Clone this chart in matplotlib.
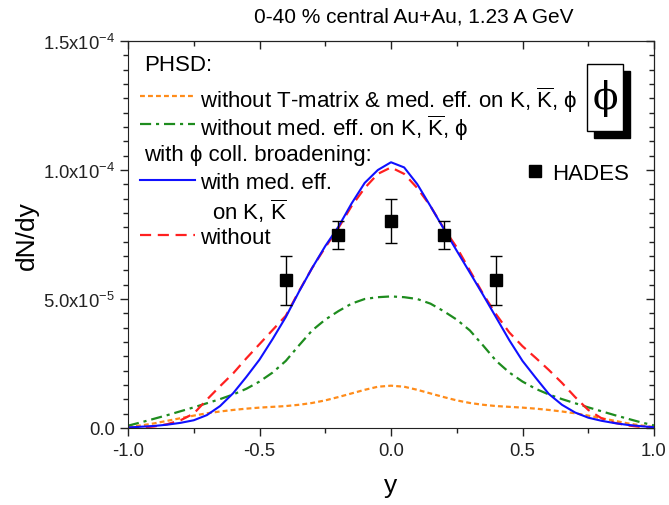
import numpy as np
import matplotlib
matplotlib.use("Agg")
import matplotlib.pyplot as plt
from matplotlib.ticker import AutoMinorLocator
from matplotlib.patches import Rectangle

plt.rcParams['font.family'] = ['Liberation Sans', 'DejaVu Serif']
plt.rcParams['mathtext.fontset'] = 'custom'
plt.rcParams['mathtext.rm'] = 'Liberation Sans'
plt.rcParams['mathtext.it'] = 'Liberation Sans:italic'

# rapidity grid (step 0.05) and dN/dy curves in units of 1e-5
y_grid = np.round(np.arange(-1.0, 1.0001, 0.05), 2)

sin_tmatrix = [0.04, 0.10, 0.18, 0.28, 0.38, 0.48, 0.57, 0.64, 0.70, 0.75, 0.79,
               0.82, 0.85, 0.90, 0.97, 1.07, 1.20, 1.34, 1.48, 1.60, 1.64,
               1.60, 1.48, 1.34, 1.20, 1.07, 0.97, 0.90, 0.85, 0.82, 0.79,
               0.75, 0.70, 0.64, 0.57, 0.48, 0.38, 0.28, 0.18, 0.10, 0.04]

sin_medeff = [0.09, 0.22, 0.36, 0.50, 0.65, 0.80, 0.96, 1.12, 1.30, 1.52, 1.80,
              2.15, 2.60, 3.20, 3.78, 4.20, 4.53, 4.82, 5.00, 5.07, 5.10,
              5.07, 5.00, 4.82, 4.53, 4.20, 3.78, 3.20, 2.60, 2.15, 1.80,
              1.52, 1.30, 1.12, 0.96, 0.80, 0.65, 0.50, 0.36, 0.22, 0.10]

con_medeff = [0.02, 0.05, 0.08, 0.13, 0.20, 0.30, 0.50, 0.85, 1.35, 1.98, 2.65,
              3.45, 4.30, 5.28, 6.20, 7.05, 7.80, 8.70, 9.50, 10.00, 10.30,
              10.10, 9.45, 8.60, 7.73, 6.87, 6.02, 5.16, 4.28, 3.40, 2.60,
              1.95, 1.32, 0.90, 0.60, 0.40, 0.28, 0.19, 0.12, 0.07, 0.03]

sin_broad = [0.00, 0.02, 0.06, 0.15, 0.30, 0.56, 1.10, 1.62, 2.12, 2.70, 3.25,
             3.80, 4.35, 5.30, 6.20, 7.00, 7.75, 8.60, 9.30, 9.85, 10.10,
             9.85, 9.30, 8.60, 7.75, 7.00, 6.10, 5.20, 4.40, 3.70, 3.17,
             2.72, 2.25, 1.75, 1.20, 0.70, 0.38, 0.20, 0.10, 0.04, 0.01]

# HADES data
hades_y = [-0.4, -0.2, 0.0, 0.2, 0.4]
hades_dndy = [5.72e-5, 7.48e-5, 8.02e-5, 7.48e-5, 5.72e-5]
hades_err = [9.6e-6, 5.6e-6, 8.4e-6, 5.6e-6, 9.6e-6]

xticks = [-1.0, -0.5, 0.0, 0.5, 1.0]
xticklabels = ['-1.0', '-0.5', '0.0', '0.5', '1.0']
yticks = [0.0, 5e-5, 1e-4, 1.5e-4]
yticklabels = ['0.0', r'5.0x10$^{-5}$', r'1.0x10$^{-4}$', r'1.5x10$^{-4}$']

fig = plt.figure(figsize=(6.69, 5.06), dpi=100)
ax = fig.add_axes([128 / 669, 1 - 429 / 506, 526 / 669, 387 / 506])

scale = 1e-5
ax.plot(y_grid, np.array(sin_tmatrix) * scale, color='#ff8c1a', lw=1.6,
        linestyle=(0, (2.2, 1.4)))
ax.plot(y_grid, np.array(sin_medeff) * scale, color='#1e8c1e', lw=1.6,
        linestyle=(0, (5, 2.2, 1.4, 2.2)))
ax.plot(y_grid, np.array(sin_broad) * scale, color='#ff2020', lw=1.6,
        linestyle=(0, (5, 3)))
ax.plot(y_grid, np.array(con_medeff) * scale, color='#1010ff', lw=1.5)

ax.errorbar(hades_y, hades_dndy, yerr=hades_err, fmt='s', color='black',
            markersize=8, capsize=4, elinewidth=1, capthick=1, zorder=5)

ax.set_xlim(-1.0, 1.0)
ax.set_ylim(0, 1.5e-4)
ax.set_xticks(xticks)
ax.set_xticklabels(xticklabels)
ax.set_yticks(yticks)
ax.set_yticklabels(yticklabels)
ax.xaxis.set_minor_locator(AutoMinorLocator(2))
ax.yaxis.set_minor_locator(AutoMinorLocator(9))
ax.tick_params(which='major', direction='out', length=6, width=1, labelsize=13.3, colors='#222222')
ax.tick_params(which='minor', direction='out', length=3.5, width=1, colors='#222222')
ax.tick_params(axis='x', pad=4)

secx = ax.secondary_xaxis('top')
secx.set_xticks(xticks)
secx.xaxis.set_minor_locator(AutoMinorLocator(2))
secx.tick_params(which='major', direction='in', length=6, width=1, labeltop=False, colors='#222222')
secx.tick_params(which='minor', direction='in', length=3.5, width=1, colors='#222222')
secy = ax.secondary_yaxis('right')
secy.set_yticks(yticks)
secy.yaxis.set_minor_locator(AutoMinorLocator(9))
secy.tick_params(which='major', direction='in', length=6, width=1, labelright=False, colors='#222222')
secy.tick_params(which='minor', direction='in', length=3.5, width=1, colors='#222222')
for s in list(ax.spines.values()):
    s.set_color('#222222')

ax.set_xlabel('y', fontsize=19, labelpad=10)
ax.set_ylabel('dN/dy', fontsize=19, labelpad=3)
fig.text(414 / 669, 1 - 17 / 506, '0-40 % central Au+Au, 1.23 A GeV',
         fontsize=15, ha='center', va='center')

# legend, drawn by hand in axes fractions
fs = 16
Kb = r'$\overline{\mathrm{K}}$'
ta = ax.transAxes
ax.text(0.03, 0.945, 'PHSD:', transform=ta, fontsize=fs, va='center_baseline')
ax.plot([0.023, 0.127], [0.858, 0.858], transform=ta, color='#ff8c1a', lw=1.6,
        linestyle=(0, (2.2, 1.4)))
ax.text(0.137, 0.858, 'without T-matrix & med. eff. on K, ' + Kb + ', ϕ',
        transform=ta, fontsize=fs, va='center_baseline')
ax.plot([0.023, 0.127], [0.786, 0.786], transform=ta, color='#1e8c1e', lw=1.6,
        linestyle=(0, (5, 2.2, 1.4, 2.2)))
ax.text(0.137, 0.786, 'without med. eff. on K, ' + Kb + ', ϕ',
        transform=ta, fontsize=fs, va='center_baseline')
ax.text(0.03, 0.713, 'with ϕ coll. broadening:', transform=ta, fontsize=fs,
        va='center_baseline')
ax.plot([0.023, 0.127], [0.641, 0.641], transform=ta, color='#1010ff', lw=1.5)
ax.text(0.137, 0.641, 'with med. eff.', transform=ta, fontsize=fs,
        va='center_baseline')
ax.text(0.16, 0.568, 'on K, ' + Kb, transform=ta, fontsize=fs,
        va='center_baseline')
ax.plot([0.023, 0.127], [0.499, 0.499], transform=ta, color='#ff2020', lw=1.6,
        linestyle=(0, (5, 3)))
ax.text(0.137, 0.499, 'without', transform=ta, fontsize=fs, va='center_baseline')

ax.plot([0.774], [0.664], 's', color='black', markersize=8, transform=ta)
ax.text(0.806, 0.664, 'HADES', transform=ta, fontsize=fs, va='center_baseline')

# phi box with shadow
bx, by, bw, bh = (587 - 128) / 526, (429 - 132) / 387, 36 / 526, 67 / 387
ax.add_patch(Rectangle((bx + 7 / 526, by - 7 / 387), bw, bh, transform=ta,
                       facecolor='black', edgecolor='black', zorder=6))
ax.add_patch(Rectangle((bx, by), bw, bh, transform=ta, facecolor='white',
                       edgecolor='black', lw=1, zorder=7))
ax.text(bx + bw / 2, by + bh / 2, '\u03d5', transform=ta, fontsize=27,
        family='DejaVu Serif', ha='center', va='center', zorder=8)

fig.savefig('out.png', dpi=100)
